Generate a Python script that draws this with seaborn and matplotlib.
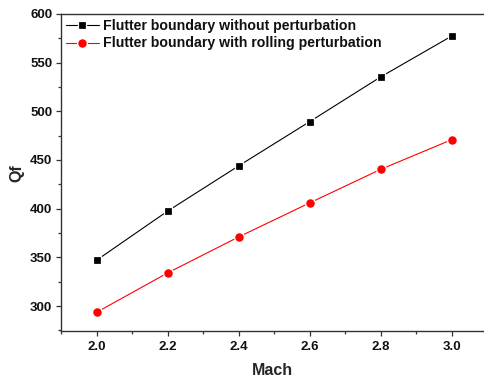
import matplotlib
matplotlib.use("Agg")
import matplotlib.pyplot as plt
import seaborn as sns
import pandas as pd
from matplotlib.ticker import MultipleLocator

mach = [2.0, 2.2, 2.4, 2.6, 2.8, 3.0]
qf_without = [347, 397.5, 444, 489.5, 535.5, 577.5]
qf_rolling = [293.5, 334, 371, 406, 440.5, 471]
label_without = "Flutter boundary without perturbation"
label_rolling = "Flutter boundary with rolling perturbation"

sns.set_theme(style="ticks")
plt.rcParams["font.family"] = ["Liberation Sans", "DejaVu Sans"]
plt.rcParams["font.weight"] = "bold"

fig = plt.figure(figsize=(4.84, 3.78), dpi=100)
ax = fig.add_axes([0.126, 0.1235, 0.874, 0.8395])

sns.lineplot(x=mach, y=qf_without, ax=ax, color="black", marker="s",
             markersize=6, markeredgecolor="white", markeredgewidth=0.9,
             linewidth=0.8, label=label_without)
sns.lineplot(x=mach, y=qf_rolling, ax=ax, color="#ff0000", marker="o",
             markersize=7, markeredgecolor="white", markeredgewidth=0.9,
             linewidth=0.8, label=label_rolling)

ax.set_xlim(1.9, 3.09)
ax.set_ylim(274, 600)
ax.xaxis.set_major_locator(MultipleLocator(0.2))
ax.xaxis.set_minor_locator(MultipleLocator(0.1))
ax.yaxis.set_major_locator(MultipleLocator(50))
ax.yaxis.set_minor_locator(MultipleLocator(25))
ax.set_xticks([2.0, 2.2, 2.4, 2.6, 2.8, 3.0])
ax.set_xticklabels(["2.0", "2.2", "2.4", "2.6", "2.8", "3.0"])

for s in ["left", "bottom", "top"]:
    ax.spines[s].set_color("#333333")
    ax.spines[s].set_linewidth(1.0)
ax.spines["right"].set_visible(False)

ax.tick_params(axis="both", which="major", direction="out", length=3.8,
               width=0.9, color="#333333", labelsize=9.5, labelcolor="#111111",
               pad=2.5)
ax.tick_params(axis="both", which="minor", direction="out", length=2.3,
               width=0.9, color="#333333")
ax.tick_params(axis="x", which="major", pad=3.5)
for lab in ax.get_xticklabels() + ax.get_yticklabels():
    lab.set_fontweight("bold")

ax.set_xlabel("Mach", fontsize=11.5, fontweight="bold", labelpad=7)
ax.set_ylabel("Qf", fontsize=11.5, fontweight="bold", labelpad=4)

leg = ax.legend(loc="upper left", frameon=False, fontsize=10.2,
                handlelength=2.3, handletextpad=0.35, borderaxespad=0.2,
                labelspacing=0.25, borderpad=0.15)
for t in leg.get_texts():
    t.set_fontweight("bold")
    t.set_color("#111111")

fig.savefig("out.png", dpi=100)
